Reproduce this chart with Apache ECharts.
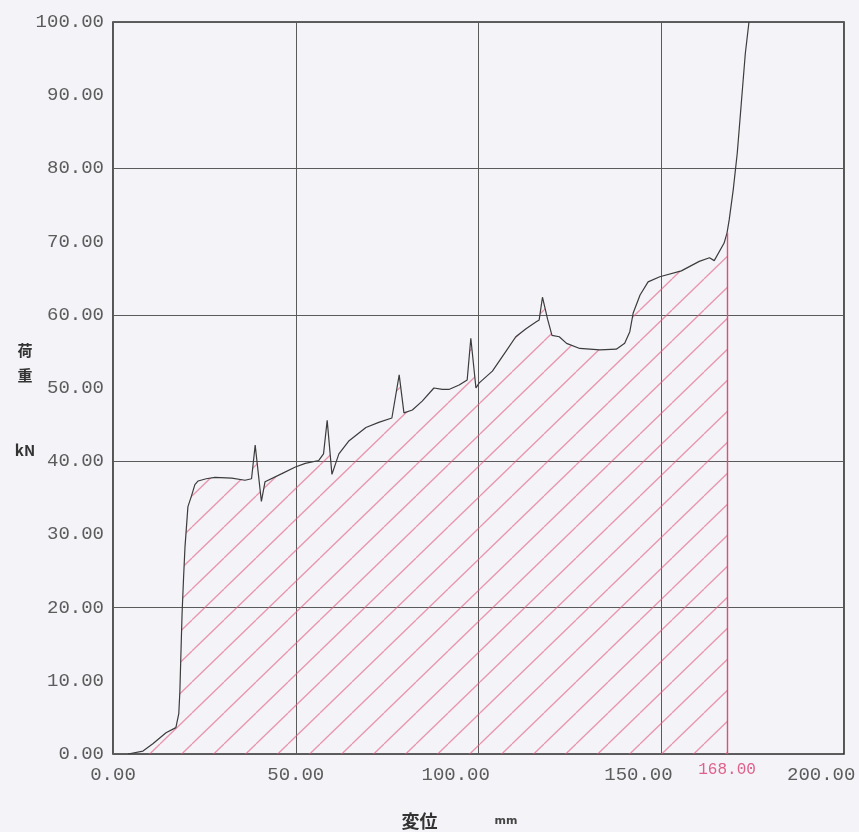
<!DOCTYPE html>
<html>
<head>
<meta charset="utf-8">
<script src="https://cdn.jsdelivr.net/npm/echarts@6/dist/echarts.min.js"></script>
<style>
  html, body { margin: 0; padding: 0; background: #f3f3f8; }
  #chart { width: 859px; height: 832px; }
</style>
</head>
<body>
<div id="chart"></div>
<script>
// displacement (mm) / load (kN)
var dispX = [4.1, 8.2, 10.9, 14.5, 17.2, 18.0, 18.3, 18.6, 18.9, 19.3, 19.7, 20.5, 21.5, 22.4, 23.3, 25.5, 27.9,
    32.5, 36.1, 37.9, 38.9, 40.6, 41.6, 46.2, 49.9, 52.6, 56.3, 57.6, 58.6, 59.9, 61.8, 64.6, 69.2,
    72.7, 76.3, 78.3, 79.6, 81.9, 84.6, 87.8, 90.1, 91.9, 94.7, 96.9, 97.9, 99.3, 100.2, 103.8, 107.5,
    110.2, 113.0, 115.7, 116.6, 117.5, 118.9, 120.1, 122.1, 124.1, 127.7, 133.2, 137.7, 140.0, 141.4,
    142.3, 144.2, 146.4, 149.6, 155.5, 160.4, 163.2, 164.5, 167.2, 168.0, 168.6, 169.7, 170.8, 171.9,
    173.0, 174.0];
var loadY = [0, 0.4, 1.4, 2.9, 3.6, 5.5, 8.6, 14.0, 19.2, 24.0, 28.3, 33.8, 35.3, 36.8, 37.3, 37.6, 37.8,
    37.7, 37.4, 37.6, 42.2, 34.5, 37.2, 38.3, 39.2, 39.7, 40.1, 41.0, 45.6, 38.2, 41.0, 42.8, 44.6,
    45.3, 45.9, 51.8, 46.6, 47.0, 48.2, 50.0, 49.8, 49.8, 50.4, 51.1, 56.8, 50.0, 50.7, 52.3, 55.0,
    57.0, 58.1, 59.0, 59.3, 62.4, 59.4, 57.2, 57.0, 56.1, 55.4, 55.2, 55.3, 56.1, 57.7,
    60.2, 62.7, 64.5, 65.2, 66.0, 67.3, 67.8, 67.4, 69.8, 71.2, 73.0, 77.1, 82.1, 88.9,
    95.7, 100];
var markX = 168;   // hand-marked end of the hatched area

var curve = dispX.map(function (x, i) { return [x, loadY[i]]; });
var hatched = curve.filter(function (p) { return p[0] <= markX; });
var markY = hatched[hatched.length - 1][1];

// diagonal hatch tile
function hatchPattern() {
    var w = 32, h = 31;
    var c = document.createElement('canvas');
    c.width = w;
    c.height = h;
    var ctx = c.getContext('2d');
    ctx.strokeStyle = 'rgba(228, 92, 128, 0.62)';
    ctx.lineWidth = 1.3;
    [-w, 0, w].forEach(function (off) {
        ctx.beginPath();
        ctx.moveTo(off, h);
        ctx.lineTo(off + w, 0);
        ctx.stroke();
    });
    return c;
}

var numFont = 'Liberation Mono';
var chart = echarts.init(document.getElementById('chart'));

var option = {
    backgroundColor: '#f3f3f8',
    animation: false,
    grid: {
        left: 113, right: 15, top: 22, bottom: 78,
        outerBoundsMode: 'none',
        containLabel: false,
        show: true, borderColor: '#2e2e2e', borderWidth: 1.6
    },
    xAxis: {
        type: 'value', min: 0, max: 200, interval: 50,
        axisLine: { show: false },
        axisTick: { show: false },
        splitLine: { show: true, lineStyle: { color: '#5a5a5a', width: 1 } },
        axisLabel: {
            margin: 11, color: '#5c5c5c', fontFamily: numFont, fontSize: 19,
            // the recorder prints the wide labels left of their tick
            formatter: function (v) { return v.toFixed(2) + (v >= 100 ? '    ' : ''); }
        },
        name: '{a|変位}{s|}{b|mm}',
        nameLocation: 'middle',
        nameGap: 58,
        nameTextStyle: {
            padding: [0, 38, 0, 0],
            rich: {
                a: { fontFamily: 'Noto Sans CJK JP', fontWeight: 'bold', fontSize: 18, color: '#333' },
                s: { width: 57 },
                b: { fontFamily: 'DejaVu Sans', fontWeight: 'bold', fontSize: 11, color: '#444' }
            }
        }
    },
    yAxis: [
        {
            type: 'value', min: 0, max: 100, interval: 10,
            axisLine: { show: false },
            axisTick: { show: false },
            splitLine: { show: false },
            axisLabel: {
                margin: 9, color: '#5c5c5c', fontFamily: numFont, fontSize: 19,
                formatter: function (v) { return v.toFixed(2); }
            },
            name: '\n荷\n重\n\n\nkN',
            nameLocation: 'middle',
            nameRotate: 0,
            nameMoveOverlap: false,
            nameGap: 88,
            nameTextStyle: {
                fontFamily: 'Noto Sans CJK JP', fontWeight: 'bold', fontSize: 15,
                color: '#333', lineHeight: 25, align: 'center'
            }
        },
        {
            type: 'value', min: 0, max: 100, interval: 20,
            axisLine: { show: false },
            axisTick: { show: false },
            axisLabel: { show: false },
            splitLine: { show: true, lineStyle: { color: '#5a5a5a', width: 1 } }
        }
    ],
    series: [
        {
            type: 'line',
            data: hatched,
            symbol: 'none',
            silent: true,
            lineStyle: { width: 0, opacity: 0 },
            areaStyle: { color: { image: hatchPattern(), repeat: 'repeat' }, opacity: 1 },
            markLine: {
                symbol: 'none',
                silent: true,
                lineStyle: { color: '#dc4f78', width: 1.4, type: 'solid' },
                label: {
                    show: true, position: 'start', distance: 8,
                    formatter: markX.toFixed(2),
                    color: '#e0608a', fontFamily: numFont, fontSize: 16
                },
                data: [[{ coord: [markX, 0] }, { coord: [markX, markY] }]]
            },
            z: 1
        },
        {
            type: 'line',
            data: curve,
            symbol: 'none',
            lineStyle: { color: '#3c3c3c', width: 1.2 },
            z: 3
        }
    ]
};

chart.setOption(option);
</script>
</body>
</html>
